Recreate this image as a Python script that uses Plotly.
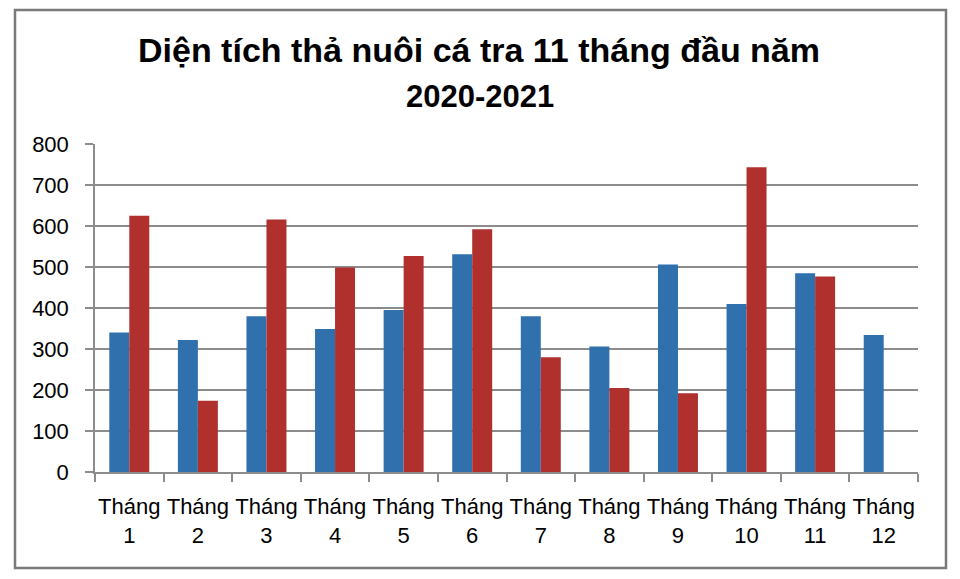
import plotly.graph_objects as go

months = ["Tháng<br>1", "Tháng<br>2", "Tháng<br>3", "Tháng<br>4", "Tháng<br>5", "Tháng<br>6",
          "Tháng<br>7", "Tháng<br>8", "Tháng<br>9", "Tháng<br>10", "Tháng<br>11", "Tháng<br>12"]
y2020 = [340, 322, 380, 349, 395, 531, 380, 306, 506, 410, 485, 334]
y2021 = [625, 174, 616, 499, 527, 592, 280, 205, 192, 743, 477, None]
yticks = [0, 100, 200, 300, 400, 500, 600, 700, 800]

# page body has an 8px default margin; lay out in screen pixels and shift
OFF = 8
W, H = 960 - OFF, 579 - OFF
L, R, T, B = 95 - OFF, 918 - OFF, 144 - OFF, 472 - OFF

fig = go.Figure()
fig.add_trace(go.Bar(x=months, y=y2020, name="2020", marker=dict(color="#3070ad", line=dict(width=0))))
fig.add_trace(go.Bar(x=months, y=y2021, name="2021", marker=dict(color="#b0302e", line=dict(width=0))))

def px(x):
    return (x - OFF - L) / (R - L)

def py(y):
    return (B - (y - OFF)) / (B - T)

fig.add_shape(type="rect", xref="paper", yref="paper",
              x0=px(15), x1=px(946), y0=py(568), y1=py(10),
              line=dict(color="#7a7a7a", width=2.5), fillcolor="rgba(0,0,0,0)", layer="below")

fig.add_annotation(text="<b>Diện tích thả nuôi cá tra 11 tháng đầu năm</b>", xref="paper", yref="paper",
                   x=px(479), y=py(50), xanchor="center", yanchor="middle", showarrow=False,
                   font=dict(family="Liberation Sans, Arial, sans-serif", size=34, color="#000000"))
fig.add_annotation(text="<b>2020-2021</b>", xref="paper", yref="paper",
                   x=px(480), y=py(96), xanchor="center", yanchor="middle", showarrow=False,
                   font=dict(family="Liberation Sans, Arial, sans-serif", size=31, color="#000000"))

fig.update_layout(
    width=W, height=H,
    margin=dict(l=L, r=W - R, t=T, b=H - B, pad=0),
    paper_bgcolor="white", plot_bgcolor="white",
    showlegend=False,
    barmode="group", bargap=0.417, bargroupgap=0,
    font=dict(family="Liberation Sans, Arial, sans-serif", color="#000000"),
)
fig.update_xaxes(
    automargin=False, tickangle=0,
    showline=True, linecolor="#8c8c8c", linewidth=1.5,
    ticks="outside", tickson="boundaries", ticklen=8, tickcolor="#8c8c8c", tickwidth=1.5,
    showgrid=False,
    ticklabelstandoff=14,
    tickfont=dict(family="Liberation Sans, Arial, sans-serif", size=22, color="#000000"),
)
fig.update_yaxes(
    automargin=False,
    range=[0, 800], tickvals=yticks,
    showline=True, linecolor="#8c8c8c", linewidth=1.5,
    ticks="outside", ticklen=8, tickcolor="#8c8c8c", tickwidth=1.5,
    showgrid=True, gridcolor="#8c8c8c", gridwidth=1.5,
    zeroline=False,
    ticklabelstandoff=12,
    tickfont=dict(family="Liberation Sans, Arial, sans-serif", size=22, color="#000000"),
)

fig.write_html("out.html")
